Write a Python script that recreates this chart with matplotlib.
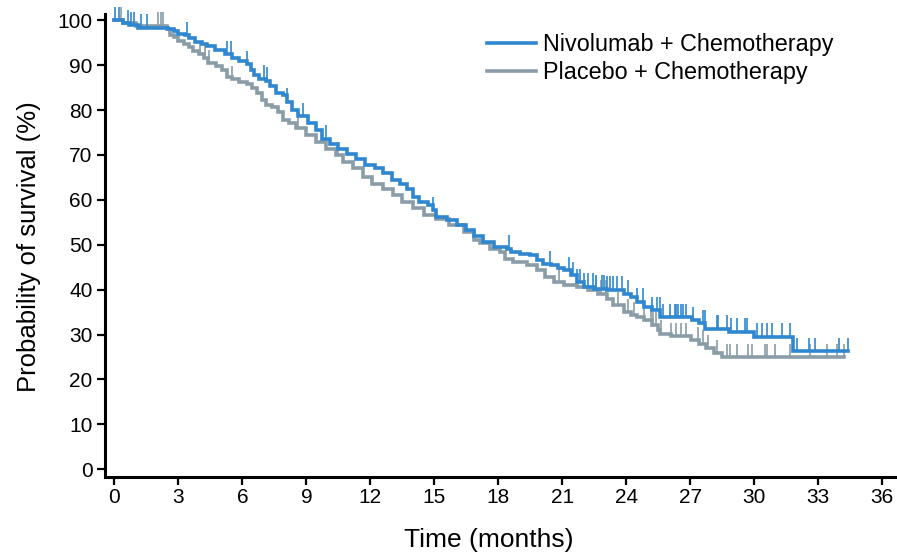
import numpy as np
import matplotlib
matplotlib.use("agg")
import matplotlib.pyplot as plt

plt.rcParams["font.family"] = ["Liberation Sans", "DejaVu Sans"]

# kaplan-meier step points (months, % surviving)
nivo_t = [0, 0.4, 0.7, 1.1, 2.5, 2.8, 3.0, 3.3, 3.5, 3.8, 4.1, 4.35, 4.7, 5.2, 5.5,
          5.85, 6.2, 6.4, 6.55, 6.8, 7.1, 7.3, 7.6, 7.9, 8.1, 8.35, 8.6, 9.1, 9.45,
          9.75, 10.1, 10.5, 10.9, 11.35, 11.75, 12.2, 12.6, 13.0, 13.4, 13.7, 14.0,
          14.3, 14.7, 14.95, 15.1, 15.6, 16.05, 16.5, 16.85, 17.3, 17.8, 18.4, 18.6,
          19.0, 19.5, 19.8, 20.1, 20.45, 20.8, 21.1, 21.4, 21.7, 22.0, 22.5, 23.1,
          23.9, 24.2, 24.5, 24.85, 25.2, 25.6, 27.1, 27.4, 27.7, 28.8, 30.0, 31.8]
nivo_s = [100, 99.3, 98.9, 98.3, 98.0, 97.6, 97.0, 96.7, 96.1, 95.2, 94.7, 94.2, 93.3,
          92.4, 91.5, 90.9, 90.2, 89.0, 87.7, 87.0, 86.5, 85.3, 83.8, 83.3, 81.8, 80.0,
          78.6, 77.0, 75.5, 73.6, 72.5, 71.4, 70.3, 69.2, 67.7, 67.0, 65.9, 64.4, 63.6,
          62.5, 60.6, 59.5, 58.8, 57.7, 56.2, 55.5, 54.3, 53.2, 52.0, 50.6, 49.5, 49.1,
          48.4, 48.0, 47.7, 46.5, 45.7, 45.4, 44.9, 44.3, 43.2, 41.7, 40.6, 40.2, 40.0,
          39.1, 38.4, 37.3, 36.1, 35.4, 33.9, 33.2, 32.5, 31.3, 30.6, 29.5, 26.3]
nivo_end = 34.4

plac_t = [0, 0.4, 1.0, 2.45, 2.6, 2.8, 3.0, 3.25, 3.5, 3.7, 3.95, 4.2, 4.4, 4.75, 5.05,
          5.3, 5.5, 5.85, 6.2, 6.45, 6.7, 6.9, 7.1, 7.4, 7.65, 7.9, 8.2, 8.5, 9.0, 9.45,
          9.9, 10.4, 10.7, 11.2, 11.65, 12.1, 12.6, 13.05, 13.5, 14.0, 14.5, 15.1, 15.7,
          16.4, 16.85, 17.15, 17.6, 18.1, 18.3, 18.7, 19.35, 19.8, 20.2, 20.6, 21.1,
          21.7, 22.2, 22.65, 23.1, 23.4, 23.9, 24.2, 24.5, 24.85, 25.2, 25.5, 25.6, 26.1,
          27.05, 27.4, 27.75, 28.1, 28.5]
plac_s = [100, 99.3, 98.8, 98.1, 96.7, 96.2, 95.4, 94.8, 94.1, 93.2, 92.4, 91.5, 90.4,
          89.8, 88.9, 87.4, 86.8, 86.3, 85.9, 84.8, 83.7, 82.2, 81.2, 80.7, 79.6, 77.7,
          77.0, 75.9, 74.4, 72.9, 71.4, 69.9, 68.4, 67.0, 65.1, 63.6, 62.5, 61.0, 59.5,
          58.1, 56.6, 55.8, 54.3, 52.8, 51.0, 50.3, 49.1, 48.4, 46.9, 46.2, 45.4, 44.3,
          42.8, 41.7, 41.0, 40.5, 39.9, 39.1, 38.0, 36.5, 35.0, 34.3, 33.9, 33.2, 32.1,
          31.0, 30.2, 29.6, 28.7, 28.0, 26.9, 25.8, 24.9]
plac_end = 34.2

# censored patients (months)
nivo_cens = [0.05, 0.22, 0.66, 0.8, 0.93, 1.27, 1.55, 3.4, 5.28, 5.45, 6.22, 7.02, 7.16,
             8.1, 8.83, 9.93, 14.95, 18.5, 20.4, 21.3, 21.5, 21.7, 21.85, 22.0, 22.2,
             22.45, 22.6, 22.85, 22.95, 23.1, 23.25, 23.4, 23.55, 23.8, 24.1, 24.5,
             24.77, 25.2, 25.45, 25.56, 25.72, 26.03, 26.26, 26.34, 26.42, 26.58, 26.66,
             26.81, 27.13, 27.6, 27.68, 28.23, 28.31, 28.7, 28.93, 29.17, 29.56, 29.64,
             30.11, 30.35, 30.58, 30.82, 31.29, 31.68, 32.0, 32.55, 32.86, 33.96, 34.4]
plac_cens = [0.3, 2.07, 2.18, 2.3, 4.0, 4.27, 4.43, 5.53, 8.6, 10.48, 20.84, 22.57, 22.8,
             23.04, 23.6, 24.07, 24.38, 24.82, 25.16, 25.24, 25.4, 25.64, 26.1, 26.34,
             26.58, 26.8, 27.37, 27.6, 27.84, 28.23, 28.7, 28.86, 29.17, 29.72, 29.88,
             30.5, 30.58, 30.98, 31.68, 32.62, 33.41, 33.88, 34.2]

labels = ["Nivolumab + Chemotherapy", "Placebo + Chemotherapy"]
colors = ["#2f87cf", "#8a9da7"]


def surv_at(t, s, times):
    idx = np.searchsorted(t, times, side="right") - 1
    return np.asarray(s)[idx]


fig = plt.figure(figsize=(8.97, 5.56), dpi=100)
ax = fig.add_axes([0.117, 0.1426, 0.883, 0.8324])

series = [(nivo_t, nivo_s, nivo_end, nivo_cens), (plac_t, plac_s, plac_end, plac_cens)]
handles = []
for k in [1, 0]:
    t, s, end, cens = series[k]
    tt = list(t) + [end]
    ss = list(s) + [s[-1]]
    h, = ax.step(tt, ss, where="post", color=colors[k], lw=2.6, zorder=3 + (1 - k),
                 solid_joinstyle="miter")
    cy = surv_at(t, s, cens)
    ax.vlines(cens, cy, cy + 3.0, color=colors[k], lw=1.2, zorder=3 + (1 - k), clip_on=False)
    handles.insert(0, h)

ax.set_xlim(-0.44, 36.69)
ax.set_ylim(-1.65, 101.4)
ax.set_xticks(np.arange(0, 37, 3))
ax.set_yticks(np.arange(0, 101, 10))
ax.spines["top"].set_visible(False)
ax.spines["right"].set_visible(False)
for sp in ["left", "bottom"]:
    ax.spines[sp].set_linewidth(2.2)
ax.tick_params(axis="both", direction="out", length=6, width=1.6, labelsize=15, pad=3)
ax.tick_params(axis="x", pad=2)
ax.set_xlabel("Time (months)", fontsize=19, labelpad=15)
ax.set_ylabel("Probability of survival (%)", fontsize=18.5, labelpad=12)
ax.xaxis.label.set_x(0.484)
ax.yaxis.label.set_y(0.497)

leg = fig.legend(handles, labels, loc="upper left", bbox_to_anchor=(487 / 897, 1 - 33 / 556),
                 frameon=False, fontsize=16.8, handlelength=2.1, handletextpad=0.28,
                 labelspacing=0.2, borderpad=0, borderaxespad=0)
for line in leg.get_lines():
    line.set_linewidth(2.6)

fig.savefig("out.png", dpi=100)
